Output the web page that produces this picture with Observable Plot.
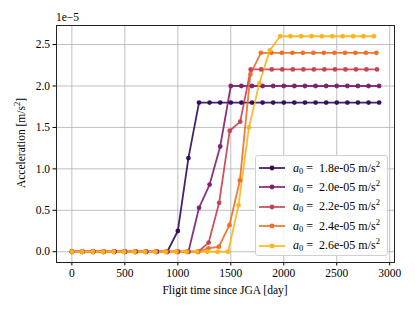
<!DOCTYPE html>
<html>
<head>
<meta charset="utf-8">
<script src="https://cdn.jsdelivr.net/npm/d3@7"></script>
<script src="https://cdn.jsdelivr.net/npm/@observablehq/plot@0.6"></script>
<style>
  body { margin: 0; background: #fff; }
  #wrap { position: relative; width: 415px; height: 311px; font-family: "Liberation Serif", "DejaVu Serif", serif; }
  #wrap > svg { position: absolute; left: 0; top: 0; }
  .ov { position: absolute; font-size: 11px; color: #000; white-space: nowrap; line-height: 1; }
  #legend { position: absolute; left: 255px; top: 155px; width: 133px; height: 101px; border: 1px solid #d0d0d0; border-radius: 3px; background: rgba(255,255,255,0.85); box-sizing: border-box; }
  .row { position: absolute; left: 0; height: 14px; display: flex; align-items: center; font-size: 12px; white-space: nowrap; }
  .row svg { display: block; flex: none; }
  sub { font-size: 8.5px; vertical-align: -2px; line-height: 0; }
  sup { font-size: 8.5px; vertical-align: 5px; line-height: 0; }
</style>
</head>
<body>
<div id="wrap"></div>
<script>
// ---- data ----
const labels = ["1.8e-05", "2.0e-05", "2.2e-05", "2.4e-05", "2.6e-05"];
const colors = ["#2f0b5c", "#7d1e6c", "#c63f4f", "#f06b24", "#fbb41b"];

const t18 = [0,100,200,300,400,500,600,700,800,900,1000,1100,1200,1300,1400,1500,1600,1700,1800,1900,2000,2100,2200,2300,2400,2500,2600,2700,2800,2900];
const a18 = [0,0,0,0,0,0,0,0,0,0,0.25,1.13,1.8,1.8,1.8,1.8,1.8,1.8,1.8,1.8,1.8,1.8,1.8,1.8,1.8,1.8,1.8,1.8,1.8,1.8];

const t20 = [0,100,200,300,400,500,600,700,800,900,1000,1100,1200,1300,1400,1500,1600,1700,1800,1900,2000,2100,2200,2300,2400,2500,2600,2700,2800,2900];
const a20 = [0,0,0,0,0,0,0,0,0,0,0,0,0.53,0.81,1.27,2.0,2.0,2.0,2.0,2.0,2.0,2.0,2.0,2.0,2.0,2.0,2.0,2.0,2.0,2.0];

const t22 = [0,99,199,298,397,497,596,695,794,894,993,1092,1192,1291,1390,1490,1589,1688,1787,1887,1986,2085,2185,2284,2383,2483,2582,2681,2780,2880];
const a22 = [0,0,0,0,0,0,0,0,0,0,0,0,0,0.11,0.59,1.46,1.57,2.2,2.2,2.2,2.2,2.2,2.2,2.2,2.2,2.2,2.2,2.2,2.2,2.2];

const t24 = [0,99,198,297,396,496,595,694,793,892,991,1090,1189,1288,1387,1487,1586,1685,1784,1883,1982,2081,2180,2279,2378,2478,2577,2676,2775,2874];
const a24 = [0,0,0,0,0,0,0,0,0,0,0,0,0,0.04,0.06,0.32,0.86,2.14,2.4,2.4,2.4,2.4,2.4,2.4,2.4,2.4,2.4,2.4,2.4,2.4];

const t26 = [0,98,197,295,393,492,590,688,786,885,983,1081,1180,1278,1376,1475,1573,1671,1769,1868,1966,2064,2163,2261,2359,2458,2556,2654,2752,2851];
const a26 = [0,0,0,0,0,0,0,0,0,0,0,0,0,0,0,0,0.56,1.50,2.03,2.43,2.6,2.6,2.6,2.6,2.6,2.6,2.6,2.6,2.6,2.6];

const xTicks = [0, 500, 1000, 1500, 2000, 2500, 3000];
const yTicks = [0, 0.5, 1.0, 1.5, 2.0, 2.5];

const times = [t18, t20, t22, t24, t26];
const accs = [a18, a20, a22, a24, a26];
const rows = [];
labels.forEach((lab, s) => times[s].forEach((t, i) => rows.push({s: lab, t, a: accs[s][i]})));

const font = "'Liberation Serif', 'DejaVu Serif', serif";

const chart = Plot.plot({
  width: 415,
  height: 311,
  marginLeft: 56,
  marginRight: 21,
  marginTop: 25,
  marginBottom: 49,
  style: { fontFamily: font, fontSize: "11px", color: "#000", background: "#fff" },
  x: { domain: [-145, 3045], label: null },
  y: { domain: [-0.13, 2.73], label: null },
  color: { domain: labels, range: colors },
  marks: [
    Plot.gridX(xTicks, { stroke: "#b0b0b0", strokeOpacity: 1, strokeWidth: 0.8 }),
    Plot.gridY(yTicks, { stroke: "#b0b0b0", strokeOpacity: 1, strokeWidth: 0.8 }),
    Plot.line(rows, { x: "t", y: "a", z: "s", stroke: "s", strokeWidth: 1.8, strokeOpacity: 0.9 }),
    Plot.dot(rows, { x: "t", y: "a", fill: "s", r: 2.4, fillOpacity: 0.95 }),
    Plot.axisX(xTicks, { tickSize: 3.5, tickPadding: 3, fontSize: 11.5, fontFamily: font, label: null, tickFormat: d => String(d) }),
    Plot.axisY(yTicks, { tickSize: 3.5, tickPadding: 3, fontSize: 11.5, fontFamily: font, label: null, tickFormat: d3.format(".1f") }),
    Plot.frame({ stroke: "#222", strokeWidth: 1 })
  ]
});

const wrap = document.getElementById("wrap");
wrap.appendChild(chart);

function ov(html, css) {
  const d = document.createElement("div");
  d.className = "ov";
  d.innerHTML = html;
  Object.assign(d.style, css);
  wrap.appendChild(d);
  return d;
}
// offset text
ov("1e&minus;5", { left: "56px", top: "12px", fontSize: "11.5px" });
// x label
ov("Fligit time since JGA [day]", { left: "225px", top: "285px", transform: "translateX(-50%)", fontSize: "11.5px" });
// y label
ov("Acceleration [m/s<sup>2</sup>]", { left: "22px", top: "143px", transform: "translate(-50%,-50%) rotate(-90deg)", fontSize: "11.5px" });

// legend
const leg = document.createElement("div");
leg.id = "legend";
wrap.appendChild(leg);
labels.forEach((lab, i) => {
  const r = document.createElement("div");
  r.className = "row";
  r.style.top = (5 + i * 19.4) + "px";
  r.innerHTML =
    `<svg width="37" height="14"><line x1="3" x2="29" y1="7" y2="7" stroke="${colors[i]}" stroke-width="1.8" stroke-opacity="0.9"/><circle cx="16" cy="7" r="2.4" fill="${colors[i]}"/></svg>` +
    `<span><i>a</i><sub>0</sub> =&nbsp; ${lab} m/s<sup>2</sup></span>`;
  leg.appendChild(r);
});
</script>
</body>
</html>
